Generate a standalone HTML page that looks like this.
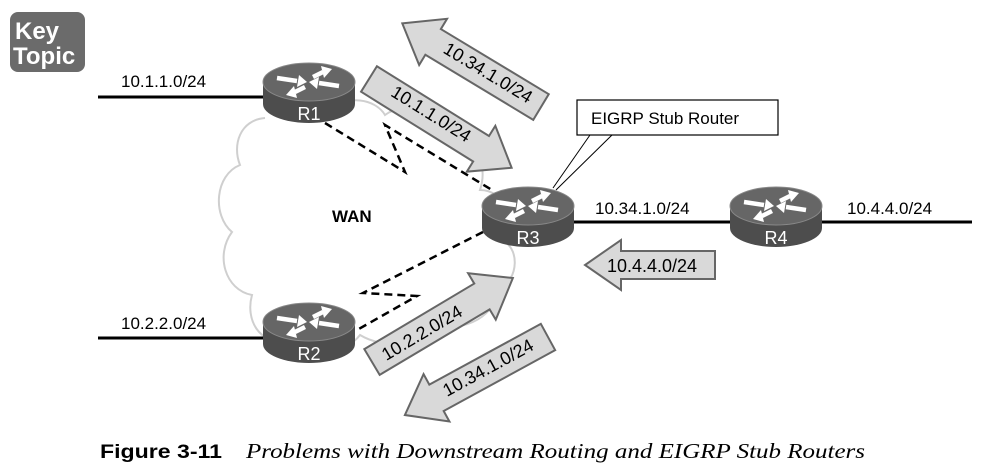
<!DOCTYPE html>
<html><head><meta charset="utf-8"><style>
body{margin:0;background:#fff;width:984px;height:468px;overflow:hidden}
svg text{font-family:"Liberation Sans",sans-serif}
</style></head><body>
<svg width="984" height="468" viewBox="0 0 984 468" xmlns="http://www.w3.org/2000/svg">
<defs>
<g id="rt">
<path d="M-46,0 L-46,22 A46,19 0 0 0 46,22 L46,0 Z" fill="#4d4d4d"/>
<ellipse cx="0" cy="0" rx="46" ry="19" fill="#666" stroke="#888" stroke-width="1"/>
<g stroke="#fff" stroke-width="4.5" fill="#fff">
<line x1="-32" y1="-4" x2="-12" y2="-1"/><polygon points="-10,-7 -2,0 -12,5" stroke="none"/>
<line x1="30" y1="4" x2="10" y2="1"/><polygon points="8,7 0,0 10,-5" stroke="none"/>
<line x1="4" y1="-5" x2="14" y2="-10"/><polygon points="12,-16 23,-13 15,-4" stroke="none"/>
<line x1="-4" y1="5" x2="-14" y2="10"/><polygon points="-12,16 -23,13 -15,4" stroke="none"/>
</g>
</g>
</defs>

<rect x="10" y="12" width="75" height="60" rx="8" fill="#6b6b6b"/>
<text x="15" y="39" fill="#fff" font-size="24" font-weight="bold">Key</text>
<text x="13" y="64" fill="#fff" font-size="24" font-weight="bold">Topic</text>

<path d="M265,118 C240,120 232,145 240,165 C215,175 212,215 232,232 C215,255 225,290 252,295 C245,320 260,345 285,340 C305,360 345,355 360,335 C385,350 420,345 432,322 C455,335 495,320 498,290 C520,280 520,245 500,240 C515,220 505,190 480,190 C490,160 470,135 445,140 C440,110 405,100 385,115 C375,98 345,95 335,110" fill="none" stroke="#cfcfcf" stroke-width="2"/>

<g stroke="#000" stroke-width="3">
<line x1="98" y1="97" x2="264" y2="97"/>
<line x1="98" y1="338" x2="264" y2="338"/>
<line x1="572" y1="222" x2="731" y2="222"/>
<line x1="821" y1="222" x2="972" y2="222"/>
</g>
<g font-size="17" fill="#000">
<text x="121" y="87">10.1.1.0/24</text>
<text x="121" y="329">10.2.2.0/24</text>
<text x="595" y="214">10.34.1.0/24</text>
<text x="847" y="214">10.4.4.0/24</text>
</g>
<text x="332" y="222" font-size="17" font-weight="bold">WAN</text>

<g stroke="#000" stroke-width="2.5" stroke-dasharray="8,5" fill="none">
<polyline points="325,123 405,172 385,125 492,190"/>
<polyline points="483,232 363,293 417,296 357,330"/>
</g>

<g fill="#d9d9d9" stroke="#666" stroke-width="2">
<polygon transform="translate(541,107) rotate(211.1)" points="0,-15 126,-15 126,-27 162,0 126,27 126,15 0,15"/>
<polygon transform="translate(369,79) rotate(31.9)" points="0,-15 132,-15 132,-27 168,0 132,27 132,15 0,15"/>
<polygon transform="translate(372,362) rotate(-30.8)" points="0,-15 128,-15 128,-27 164,0 128,27 128,15 0,15"/>
<polygon transform="translate(548,337) rotate(151.4)" points="0,-15 127,-15 127,-27 163,0 127,27 127,15 0,15"/>
<polygon transform="translate(715,265) rotate(180)" points="0,-14 94,-14 94,-25 130,0 94,25 94,14 0,14"/>
</g>
<g font-size="18" fill="#000" text-anchor="middle">
<text transform="translate(485,78) rotate(31.1)">10.34.1.0/24</text>
<text transform="translate(428,119) rotate(31.9)">10.1.1.0/24</text>
<text transform="translate(425,338) rotate(-30.8)">10.2.2.0/24</text>
<text transform="translate(491,373) rotate(-28.6)">10.34.1.0/24</text>
<text x="652" y="272">10.4.4.0/24</text>
</g>

<use href="#rt" transform="translate(309,82)"/>
<use href="#rt" transform="translate(309,322)"/>
<use href="#rt" transform="translate(528,206)"/>
<use href="#rt" transform="translate(776,206)"/>
<g font-size="18" fill="#fff" text-anchor="middle">
<text x="309" y="120">R1</text>
<text x="309" y="360">R2</text>
<text x="528" y="244">R3</text>
<text x="776" y="244">R4</text>
</g>

<line x1="590" y1="135" x2="553" y2="188" stroke="#000" stroke-width="1"/>
<line x1="612" y1="135" x2="556" y2="190" stroke="#000" stroke-width="1"/>
<rect x="577" y="100" width="201" height="35" fill="#fff" stroke="#000" stroke-width="1.2"/>
<text x="591" y="124" font-size="17">EIGRP Stub Router</text>

<text x="100" y="458" font-size="19" font-weight="bold" textLength="122" lengthAdjust="spacingAndGlyphs">Figure 3-11</text>
<text x="246" y="458" font-size="21" font-style="italic" style="font-family:'Liberation Serif',serif" textLength="619" lengthAdjust="spacingAndGlyphs">Problems with Downstream Routing and EIGRP Stub Routers</text>
</svg>
</body></html>
